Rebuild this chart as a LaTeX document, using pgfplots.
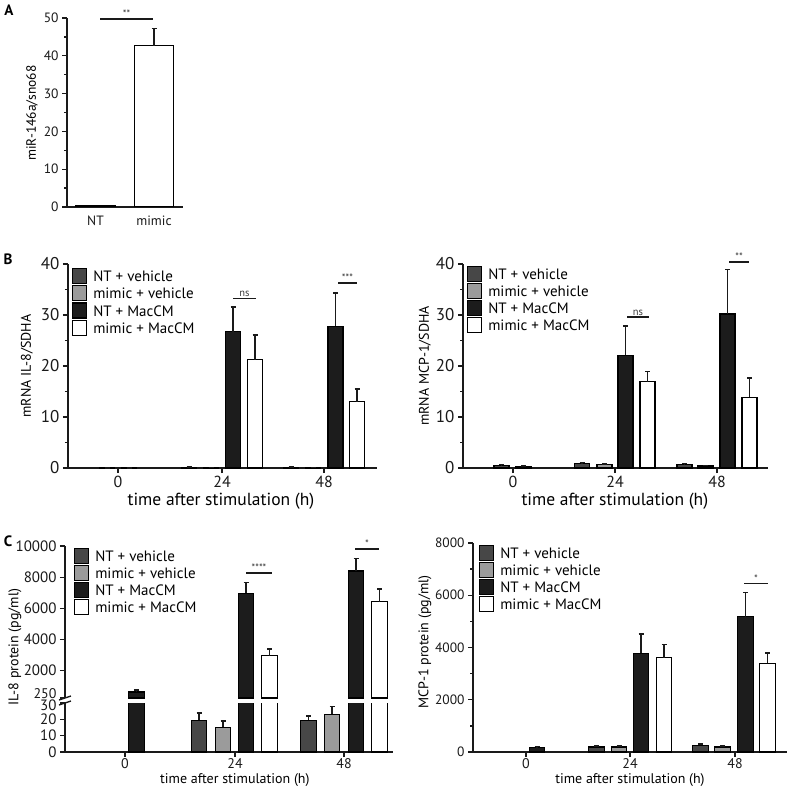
\documentclass[border=0pt]{standalone}
\usepackage{pgfplots}
\usepackage{pgfplotstable}
\pgfplotsset{compat=1.18}
\usepackage{fontspec}
\setmainfont{PT Sans}
\definecolor{cNTv}{HTML}{474747}
\definecolor{cMIv}{HTML}{9B9B9B}
\definecolor{cNTm}{HTML}{1C1C1C}
\definecolor{axc}{HTML}{1A1A1A}
\newcommand{\fs}[1]{\fontsize{#1}{#1}\selectfont}

% Panel B, IL-8 mRNA (x = bar centre, y = mean, e = upper error)
\pgfplotstableread[row sep=\\]{x y e\\ 107 0.05 0\\ 189 0.15 0.05\\ 291 0.12 0.05\\}\BLa
\pgfplotstableread[row sep=\\]{x y e\\ 129 0.05 0\\ 211 0.10 0.03\\ 313 0.10 0.03\\}\BLb
\pgfplotstableread[row sep=\\]{x y e\\ 233 26.7 4.9\\ 335.5 27.8 6.5\\}\BLc
\pgfplotstableread[row sep=\\]{x y e\\ 255 21.2 4.9\\ 357 13.0 2.5\\}\BLd
% Panel B, MCP-1 mRNA
\pgfplotstableread[row sep=\\]{x y e\\ 501.5 0.46 0.2\\ 582 0.80 0.25\\ 684.5 0.65 0.2\\}\BRa
\pgfplotstableread[row sep=\\]{x y e\\ 523.5 0.33 0.1\\ 604.5 0.65 0.15\\ 705.5 0.40 0.1\\}\BRb
\pgfplotstableread[row sep=\\]{x y e\\ 625.5 22.1 5.8\\ 727.5 30.2 8.7\\}\BRc
\pgfplotstableread[row sep=\\]{x y e\\ 647.5 16.9 2.0\\ 749.5 13.9 3.7\\}\BRd
% Panel C, IL-8 protein
\pgfplotstableread[row sep=\\]{x y e\\ 199 19.4 4.6\\ 308.5 19.4 2.6\\}\CLa
\pgfplotstableread[row sep=\\]{x y e\\ 223 15.2 3.8\\ 332 23.0 4.8\\}\CLb
\pgfplotstableread[row sep=\\]{x y e\\ 136.5 635 130\\ 246 6966 705\\ 356 8396 815\\}\CLc
\pgfplotstableread[row sep=\\]{x y e\\ 269.5 2963 430\\ 379.5 6427 815\\}\CLd
% Panel C, MCP-1 protein
\pgfplotstableread[row sep=\\]{x y e\\ 596.5 190 40\\ 700.5 256 40\\}\CRa
\pgfplotstableread[row sep=\\]{x y e\\ 619 190 30\\ 722.5 190 40\\}\CRb
\pgfplotstableread[row sep=\\]{x y e\\ 537 170 40\\ 641 3780 740\\ 745.5 5185 925\\}\CRc
\pgfplotstableread[row sep=\\]{x y e\\ 664 3610 510\\ 767.5 3390 390\\}\CRd

\tikzset{
  sig/.style={line width=1.3pt, axc},
  star/.style={font=\fs{10.5}, text=axc!85, anchor=south, inner sep=1pt},
}
\pgfplotsset{
  gp/.style={
    scale only axis,
    axis x line*=bottom, axis y line*=left,
    axis line style={line width=1.6pt, -, axc},
    tick style={line width=1.3pt, axc},
    tick align=outside,
    major tick length=5pt, minor tick length=3pt,
    clip mode=individual,
    scaled y ticks=false, scaled x ticks=false,
    /pgf/number format/assume math mode=true,
    ticklabel style={text=axc},
    error bars/y dir=plus, error bars/y explicit,
    error bars/error bar style={line width=1.6pt, axc},
    error bars/error mark options={rotate=90, line width=1.6pt, mark size=2.5pt, axc},
    every axis plot/.append style={ybar, bar shift=0pt, draw=black, line width=1.1pt},
  },
  leg/.style={
    legend style={draw=none, fill=none, inner sep=0pt, anchor=north west,
      font=\fs{15}, row sep=1pt, column sep=6pt,
      cells={anchor=base west},
      nodes={inner sep=0pt, text height=10.5pt, text depth=2pt}},
    legend image code/.code={\draw[##1, line width=1.1pt] (0pt,-2pt) rectangle (14pt,13pt);},
  },
}

\begin{document}
\begin{tikzpicture}
\fill[white] (0pt,0pt) rectangle (787pt,-786pt);
\path[use as bounding box] (0pt,0pt) rectangle (787pt,-786pt);

\node[font=\bfseries\fs{15}] at (9pt,-10pt) {A};
\node[font=\bfseries\fs{15}] at (8pt,-259pt) {B};
\node[font=\bfseries\fs{15}] at (8pt,-541pt) {C};

% ---------------- Panel A ----------------
\begin{axis}[gp, at={(67pt,-207pt)}, anchor=south west,
  width=116pt, height=189pt,
  xmin=67, xmax=183, ymin=0, ymax=50,
  ytick={0,10,...,50}, minor ytick={5,15,...,45},
  xtick={95.5,154}, xticklabels={NT,mimic}, xtick style={draw=none},
  ticklabel style={font=\fs{13.5}},
  every axis plot/.append style={bar width=39},
  ylabel={miR-146a/sno68},
  ylabel style={at={(axis description cs:-0.302,0.497)}, anchor=center, font=\fs{13.5}},
]
\addplot[fill=cNTm] coordinates {(95.5,0.3)};
\addplot[fill=white] coordinates {(154,42.7) +- (0,4.5)};
\draw[sig] (axis cs:100,49.7) -- (axis cs:153,49.7);
\node[star] at (axis cs:126.5,49.7) {**};
\end{axis}

% ---------------- Panel B left ----------------
\begin{axis}[gp, leg, at={(68pt,-468pt)}, anchor=south west,
  width=309pt, height=204pt,
  xmin=68, xmax=377, ymin=0, ymax=40,
  ytick={0,10,...,40}, minor ytick={5,15,25,35},
  xtick={118,222,324}, xticklabels={0,24,48},
  yticklabel style={font=\fs{17}}, xticklabel style={font=\fs{16}},
  every axis plot/.append style={bar width=15},
  ylabel={mRNA IL-8/SDHA},
  ylabel style={at={(axis description cs:-0.133,0.5)}, anchor=center, font=\fs{14}},
  xlabel={time after stimulation (h)},
  xlabel style={at={(axis description cs:0.495,-0.162)}, anchor=center, font=\fs{17.5}},
  legend style={at={(axis cs:72,39.2)}},
]
\addplot[fill=cNTv] table[x=x,y=y,y error=e] {\BLa};
\addplot[fill=cMIv] table[x=x,y=y,y error=e] {\BLb};
\addplot[fill=cNTm] table[x=x,y=y,y error=e] {\BLc};
\addplot[fill=white] table[x=x,y=y,y error=e] {\BLd};
\legend{NT + vehicle, mimic + vehicle, NT + MacCM, mimic + MacCM}
\draw[sig] (axis cs:233,33.3) -- (axis cs:256,33.3);
\node[star] at (axis cs:244.5,33.3) {ns};
\draw[sig] (axis cs:338,36.3) -- (axis cs:357,36.3);
\node[star] at (axis cs:347.5,36.3) {***};
\end{axis}

% ---------------- Panel B right ----------------
\begin{axis}[gp, leg, at={(463pt,-468pt)}, anchor=south west,
  width=305pt, height=204pt,
  xmin=463, xmax=768, ymin=0, ymax=40,
  ytick={0,10,...,40}, minor ytick={5,15,25,35},
  xtick={513,615,717}, xticklabels={0,24,48},
  yticklabel style={font=\fs{17}}, xticklabel style={font=\fs{16}},
  every axis plot/.append style={bar width=15},
  ylabel={mRNA MCP-1/SDHA},
  ylabel style={at={(axis description cs:-0.125,0.5)}, anchor=center, font=\fs{14}},
  xlabel={time after stimulation (h)},
  xlabel style={at={(axis description cs:0.498,-0.162)}, anchor=center, font=\fs{17.5}},
  legend style={at={(axis cs:467,39.7)}},
]
\addplot[fill=cNTv] table[x=x,y=y,y error=e] {\BRa};
\addplot[fill=cMIv] table[x=x,y=y,y error=e] {\BRb};
\addplot[fill=cNTm] table[x=x,y=y,y error=e] {\BRc};
\addplot[fill=white] table[x=x,y=y,y error=e] {\BRd};
\legend{NT + vehicle, mimic + vehicle, NT + MacCM, mimic + MacCM}
\draw[sig] (axis cs:627,29.6) -- (axis cs:649,29.6);
\node[star] at (axis cs:638,29.6) {ns};
\draw[sig] (axis cs:729,40.4) -- (axis cs:749,40.4);
\node[star] at (axis cs:739,40.4) {**};
\end{axis}

% ---------------- Panel C left, lower segment ----------------
\begin{axis}[gp, at={(65pt,-752pt)}, anchor=south west,
  width=328pt, height=49pt,
  xmin=65, xmax=393, ymin=0, ymax=30,
  ytick={0,10,20},
  extra y ticks={30}, extra y tick labels={30},
  extra y tick style={yticklabel style={yshift=-2pt, inner ysep=0pt}},
  xtick={125,235,344}, xticklabels={0,24,48},
  yticklabel style={font=\fs{15}}, xticklabel style={font=\fs{14}, yshift=2pt},
  every axis plot/.append style={bar width=15.5},
  xlabel={time after stimulation (h)},
  xlabel style={at={(axis description cs:0.518,-0.633)}, anchor=base, inner sep=0pt, font=\fs{14}},
]
\addplot[fill=cNTv] table[x=x,y=y,y error=e] {\CLa};
\addplot[fill=cMIv] table[x=x,y=y,y error=e] {\CLb};
\addplot[fill=cNTm] table[x=x,y=y,y error=e] {\CLc};
\addplot[fill=white] table[x=x,y=y,y error=e] {\CLd};
\end{axis}

% ---------------- Panel C left, upper segment ----------------
\begin{axis}[gp, leg, at={(65pt,-698pt)}, anchor=south west,
  width=328pt, height=152pt,
  axis x line=none, xtick=\empty,
  xmin=65, xmax=393, ymin=250, ymax=10000,
  ytick={2000,4000,6000,8000,10000},
  yticklabels={2000,4000,6000,8000,10000},
  extra y ticks={250}, extra y tick labels={250},
  extra y tick style={yticklabel style={yshift=4pt, inner ysep=0pt, font=\fs{14}}},
  yticklabel style={font=\fs{15}},
  every axis plot/.append style={bar width=15.5},
  legend style={at={(axis cs:74,9904)}},
]
\addlegendimage{fill=cNTv, draw=black}
\addlegendimage{fill=cMIv, draw=black}
\addplot[fill=cNTm] table[x=x,y=y,y error=e] {\CLc};
\addplot[fill=white] table[x=x,y=y,y error=e] {\CLd};
\legend{NT + vehicle, mimic + vehicle, NT + MacCM, mimic + MacCM}
\draw[sig] (axis cs:246,8268) -- (axis cs:272,8268);
\node[star] at (axis cs:259,8268) {****};
\draw[sig] (axis cs:355,9807) -- (axis cs:379,9807);
\node[star] at (axis cs:367,9807) {*};
\end{axis}
\draw[line width=1.3pt, axc] (59pt,-700pt) -- (71pt,-696pt);
\draw[line width=1.3pt, axc] (59pt,-705pt) -- (71pt,-701pt);
\node[rotate=90, font=\fs{14}] at (15pt,-647pt) {IL-8 protein (pg/ml)};

% ---------------- Panel C right ----------------
\begin{axis}[gp, leg, at={(473pt,-752pt)}, anchor=south west,
  width=314pt, height=209pt,
  xmin=473, xmax=787, ymin=0, ymax=8000,
  ytick={0,2000,4000,6000,8000}, yticklabels={0,2000,4000,6000,8000},
  minor ytick={1000,3000,5000,7000},
  xtick={526,630,735}, xticklabels={0,24,48},
  yticklabel style={font=\fs{13.5}}, xticklabel style={font=\fs{14}, yshift=2pt},
  every axis plot/.append style={bar width=15.5},
  ylabel={MCP-1 protein (pg/ml)},
  ylabel style={at={(axis description cs:-0.153,0.526)}, anchor=center, font=\fs{14}},
  xlabel={time after stimulation (h)},
  xlabel style={at={(axis description cs:0.5,-0.1483)}, anchor=base, inner sep=0pt, font=\fs{14}},
  legend style={at={(axis cs:479,7943)}},
]
\addplot[fill=cNTv] table[x=x,y=y,y error=e] {\CRa};
\addplot[fill=cMIv] table[x=x,y=y,y error=e] {\CRb};
\addplot[fill=cNTm] table[x=x,y=y,y error=e] {\CRc};
\addplot[fill=white] table[x=x,y=y,y error=e] {\CRd};
\legend{NT + vehicle, mimic + vehicle, NT + MacCM, mimic + MacCM}
\draw[sig] (axis cs:744,6437) -- (axis cs:768,6437);
\node[star] at (axis cs:756,6437) {*};
\end{axis}
\end{tikzpicture}
\end{document}
